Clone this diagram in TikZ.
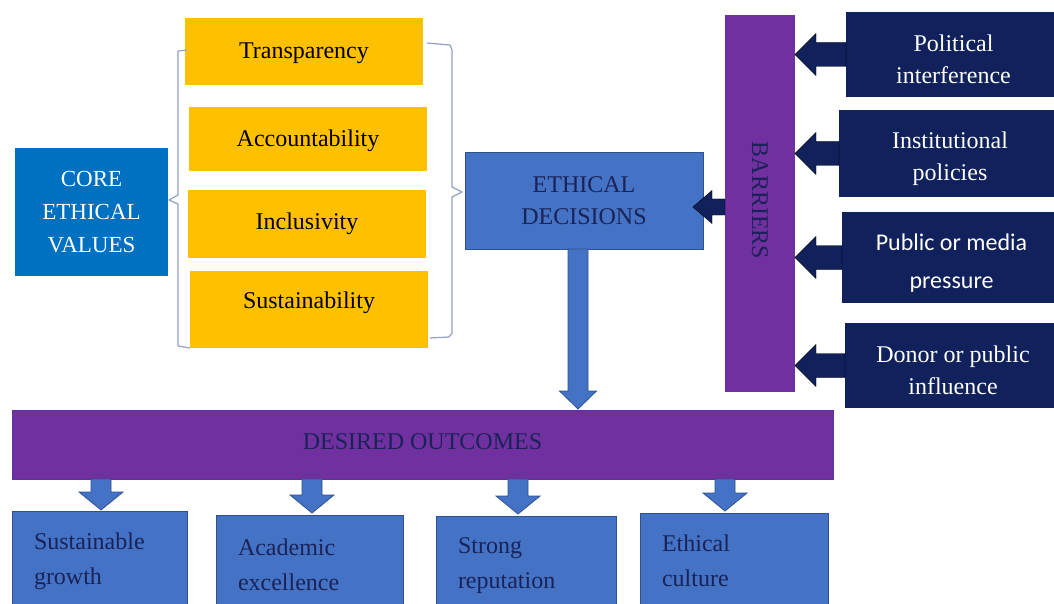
\documentclass[tikz,border=0pt]{standalone}
\usepackage{fontspec}
\setmainfont{Liberation Serif}
\newfontfamily\labelsans{Carlito}
\usetikzlibrary{calc}

\definecolor{coreblue}{HTML}{0070C0}
\definecolor{gold}{HTML}{FFC000}
\definecolor{midblue}{HTML}{4472C4}
\definecolor{edgeblue}{HTML}{2F528F}
\definecolor{barpurple}{HTML}{7030A0}
\definecolor{baredge}{HTML}{5A3498}
\definecolor{navy}{HTML}{10215C}
\definecolor{inkblue}{HTML}{1A2358}
\definecolor{bracketgray}{HTML}{8FA1C6}

% struts that push a label down (taller first line) or up (deeper last line)
\newcommand{\pushdown}[1]{\rule{0pt}{#1}}
\newcommand{\pushup}[1]{\rule[-#1]{0pt}{#1}}

\tikzset{
  box/.style={rectangle, inner sep=0pt, outer sep=0pt, anchor=north west,
    align=center, font=\fontsize{24}{32}\selectfont},
  corebox/.style={box, fill=coreblue, text=white, font=\fontsize{23}{33}\selectfont},
  valuebox/.style={box, fill=gold, text=black},
  decisionbox/.style={box, fill=midblue, draw=edgeblue, line width=1pt, text=inkblue},
  barrierbar/.style={box, fill=barpurple},
  pressurebox/.style={box, fill=navy, text=white},
  outcomebar/.style={box, fill=barpurple, draw=baredge, line width=0.8pt, text=inkblue},
  resultbox/.style={box, fill=midblue, draw=edgeblue, line width=1pt, text=inkblue,
    align=left, inner xsep=22pt, font=\fontsize{24}{35}\selectfont},
  bracketline/.style={draw=bracketgray, line width=1.2pt, line join=round},
  bluearrow/.style={fill=midblue, draw=edgeblue, line width=0.8pt},
  navyarrow/.style={fill=navy},
  % block arrow pointing down: shaft half width, head half width, head length
  vblock/.style n args={3}{to path={let \p1=(\tikztostart),\p2=(\tikztotarget) in
    (\x1-#1,\y1) -- (\x1-#1,\y2+#3) -- (\x1-#2,\y2+#3) -- (\x1,\y2)
    -- (\x1+#2,\y2+#3) -- (\x1+#1,\y2+#3) -- (\x1+#1,\y1) -- cycle}},
  % block arrow pointing left: shaft half height, head half height, head length
  hblock/.style n args={3}{to path={let \p1=(\tikztostart),\p2=(\tikztotarget) in
    (\x1,\y1+#1) -- (\x2+#3,\y1+#1) -- (\x2+#3,\y1+#2) -- (\x2,\y1)
    -- (\x2+#3,\y1-#2) -- (\x2+#3,\y1-#1) -- (\x1,\y1-#1) -- cycle}},
}

\begin{document}
\begin{tikzpicture}[x=1pt,y=-1pt]
\clip (0,0) rectangle (1054,604);
\fill[white] (0,0) rectangle (1054,604);

% core values and the four value boxes
\node[corebox, minimum width=153pt, minimum height=128pt] (core) at (15,148) {CORE\\ETHICAL\\VALUES};
\node[valuebox, minimum width=238pt, minimum height=67pt] (v1) at (185,18) {\pushdown{20pt}Transparency};
\node[valuebox, minimum width=238pt, minimum height=64pt] (v2) at (189,107) {\pushdown{20pt}Accountability};
\node[valuebox, minimum width=238pt, minimum height=68pt] (v3) at (188,190) {Inclusivity};
\node[valuebox, minimum width=238pt, minimum height=77pt] (v4) at (190,271) {\pushup{19pt}Sustainability};

% brackets around the value boxes
\draw[bracketline] (187,50) -- (178,51) -- (178,195) -- (169,200) -- (178,204) -- (178,346) -- (190,348);
\draw[bracketline] (427,43) -- (450,45) -- (452,50) -- (452,187) -- (462,192) -- (452,197) -- (452,333) -- (449,337) -- (430,338);

% decisions and barriers
\node[decisionbox, minimum width=238pt, minimum height=96pt] (ed) at (465,153) {ETHICAL\\DECISIONS};
\node[barrierbar, minimum width=70pt, minimum height=377pt] (bar) at (725,15) {};
\node[rotate=-90, text=inkblue, font=\fontsize{24}{32}\selectfont] (bartext) at ($(bar.center)+(0,-3)$) {BARRIERS};

% external pressures
\node[pressurebox, minimum width=215pt, minimum height=85pt] (p1) at (846,12) {\pushdown{27pt}Political\\interference};
\node[pressurebox, minimum width=222pt, minimum height=87pt] (p2) at (839,110) {\pushdown{27pt}Institutional\\policies};
\node[pressurebox, minimum width=219pt, minimum height=91pt, font=\labelsans\fontsize{24}{38}\selectfont] (p3) at (842,212) {\pushdown{27pt}Public or media\\pressure};
\node[pressurebox, minimum width=216pt, minimum height=85pt] (p4) at (845,323) {\pushdown{27pt}Donor or public\\influence};

% outcomes
\node[outcomebar, minimum width=821pt, minimum height=69pt] (do) at (12,410) {\pushup{6pt}DESIRED OUTCOMES};
\node[resultbox, text width=131pt, minimum height=100pt] (o1) at (12,511) {Sustainable\\growth};
\node[resultbox, text width=143pt, minimum height=100pt] (o2) at (216,515) {Academic\\excellence};
\node[resultbox, text width=136pt, minimum height=100pt] (o3) at (436,516) {Strong\\reputation};
\node[resultbox, text width=144pt, minimum height=96pt] (o4) at (640,513) {Ethical\\culture};

% arrow tips
\coordinate (edtip) at (693,207);
\coordinate (dotip) at (578,409);
\coordinate (t1) at (101,510);
\coordinate (t2) at (312,513);
\coordinate (t3) at (518,514);
\coordinate (t4) at (725,511);

% pressures push on the barriers
\foreach \src in {p1,p2,p3,p4}
  \draw[navyarrow, hblock={12pt}{21pt}{21pt}] (\src.west) to (bar.east |- \src.west);
\draw[navyarrow, hblock={8pt}{16.5pt}{19pt}] (bar.west |- edtip) to (edtip);

% decisions lead to outcomes
\draw[bluearrow, vblock={10pt}{18.5pt}{18pt}] (ed.south -| dotip) to (dotip);
\foreach \tip in {t1,t2,t3,t4}
  \draw[bluearrow, vblock={10pt}{22pt}{18pt}] (do.south -| \tip) to (\tip);
\end{tikzpicture}
\end{document}
